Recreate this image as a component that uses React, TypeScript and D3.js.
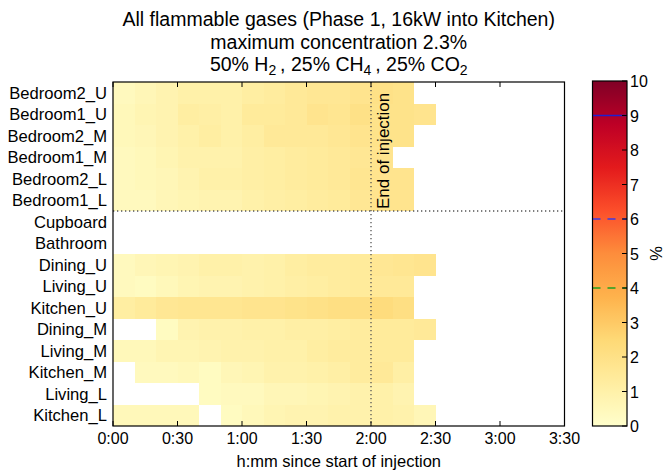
import React from "react";
import * as d3 from "d3";

// Sensor locations, top to bottom
const LOCATIONS = [
  "Bedroom2_U", "Bedroom1_U", "Bedroom2_M", "Bedroom1_M", "Bedroom2_L", "Bedroom1_L",
  "Cupboard", "Bathroom", "Dining_U", "Living_U", "Kitchen_U", "Dining_M",
  "Living_M", "Kitchen_M", "Living_L", "Kitchen_L",
];

// Start of each 10-minute averaging bin (minutes since start of injection)
const BIN_STARTS = [0, 10, 20, 30, 40, 50, 60, 70, 80, 90, 100, 110, 120, 130, 140];
const BIN_WIDTH = 10;

// Flammable gas concentration (%) per bin; null = no reading
const bedroom2U = [0.4, 0.6, 0.8, 1.0, 1.0, 1.0, 1.2, 1.3, 1.5, 1.6, 1.6, 1.8, 2.0, 1.9, null];
const bedroom1U = [0.5, 0.7, 0.8, 1.2, 1.1, 1.0, 1.4, 1.4, 1.5, 1.8, 1.7, 2.0, 1.9, 1.9, 1.8];
const bedroom2M = [0.5, 0.6, 0.8, 1.0, 1.2, 1.0, 1.2, 1.5, 1.5, 1.5, 1.6, 1.8, 1.9, 1.9, null];
const bedroom1M = [0.4, 0.5, 0.7, 0.9, 0.9, 0.9, 1.1, 1.2, 1.3, 1.4, 1.5, 1.6, 1.8, null, null];
const bedroom2L = [0.4, 0.5, 0.6, 0.8, 1.0, 1.0, 1.1, 1.2, 1.3, 1.4, 1.5, 1.7, 1.8, 1.8, null];
const bedroom1L = [0.4, 0.4, 0.6, 0.7, 0.8, 0.8, 1.0, 1.1, 1.2, 1.3, 1.4, 1.6, 1.8, 1.8, null];
const cupboard = [null, null, null, null, null, null, null, null, null, null, null, null, null, null, null];
const bathroom = [null, null, null, null, null, null, null, null, null, null, null, null, null, null, null];
const diningU = [0.4, 0.6, 0.7, 0.8, 1.0, 1.0, 0.9, 1.0, 1.2, 1.3, 1.3, 1.4, 1.6, 1.7, 1.8];
const livingU = [0.4, 0.3, 0.5, 0.7, 0.8, 0.8, 0.9, 1.0, 1.1, 1.2, 1.3, 1.4, 1.5, 1.5, null];
const kitchenU = [1.2, 1.4, 1.6, 1.7, 1.7, 1.7, 1.8, 1.8, 1.9, 2.0, 2.1, 2.1, 2.3, 2.1, null];
const diningM = [null, null, 0.3, 0.8, 0.9, 0.9, 1.0, 1.0, 1.1, 1.1, 1.2, 1.3, 1.4, 1.4, 1.5];
const livingM = [0.5, 0.5, 0.7, 0.7, 0.8, 0.9, 0.9, 1.0, 1.0, 1.2, 1.3, 1.3, 1.4, 1.4, null];
const kitchenM = [null, 0.4, 0.4, 0.5, 0.3, 0.6, 0.7, 0.9, 0.9, 1.0, 1.1, 1.3, 1.5, 1.1, null];
const livingL = [null, null, null, null, 0.3, 0.4, 0.4, 0.6, 0.6, 0.7, 0.8, 0.9, 1.0, 0.8, null];
const kitchenL = [0.5, 0.5, 0.5, 0.5, null, 0.3, 0.5, 0.7, 0.8, 0.8, 0.9, 0.9, 1.0, 0.9, 0.6];

const SERIES = [
  bedroom2U, bedroom1U, bedroom2M, bedroom1M, bedroom2L, bedroom1L,
  cupboard, bathroom, diningU, livingU, kitchenU, diningM,
  livingM, kitchenM, livingL, kitchenL,
];

const X_TICKS = [0, 30, 60, 90, 120, 150, 180, 210];
const X_TICK_LABELS = ["0:00", "0:30", "1:00", "1:30", "2:00", "2:30", "3:00", "3:30"];
const CBAR_TICKS = [0, 1, 2, 3, 4, 5, 6, 7, 8, 9, 10];
const END_OF_INJECTION = 120;
const BEDROOM_ROWS = 6;

// Reference levels on the colour bar
const LEVELS = [
  { value: 9, color: "#1f1fd0", dash: "none" },
  { value: 6, color: "#3a3ae8", dash: "8,7" },
  { value: 4, color: "#22a022", dash: "8,7" },
];

const YLORRD = ["#ffffcc", "#ffeda0", "#fed976", "#feb24c", "#fd8d3c", "#fc4e2a", "#e31a1c", "#bd0026", "#800026"];

const W = 667;
const H = 475;
const M = { left: 113, right: 564.5, top: 82, bottom: 426 };
const CB = { left: 592.5, right: 627, top: 81, bottom: 426 };
const FONT = "'Liberation Sans', Arial, Helvetica, sans-serif";

export default function App() {
  const x = d3.scaleLinear().domain([0, 210]).range([M.left, M.right]);
  const y = d3.scaleBand<string>().domain(LOCATIONS).range([M.top, M.bottom]);
  const color = d3
    .scaleLinear<string>()
    .domain(YLORRD.map((_, i) => (i * 10) / (YLORRD.length - 1)))
    .range(YLORRD)
    .interpolate(d3.interpolateRgb);
  const cb = d3.scaleLinear().domain([0, 10]).range([CB.bottom, CB.top]);

  const cells: { key: string; x0: number; x1: number; y0: number; h: number; fill: string }[] = [];
  SERIES.forEach((row, r) => {
    row.forEach((v, c) => {
      if (v == null) return;
      const t0 = BIN_STARTS[c];
      cells.push({
        key: `${r}-${c}`,
        x0: x(t0),
        x1: x(t0 + BIN_WIDTH),
        y0: y(LOCATIONS[r]) as number,
        h: y.bandwidth(),
        fill: color(v),
      });
    });
  });

  const sepY = y(LOCATIONS[BEDROOM_ROWS]) as number;
  const gradStops = d3.range(0, 10.01, 0.25);

  return (
    <svg
      width={W}
      height={H}
      style={{ position: "absolute", left: 0, top: 0, background: "#fff" }}
      fontFamily={FONT}
    >
      <defs>
        <linearGradient id="cbar" x1="0" y1="1" x2="0" y2="0">
          {gradStops.map((v) => (
            <stop key={v} offset={v / 10} stopColor={color(v)} />
          ))}
        </linearGradient>
      </defs>

      {/* Title */}
      <g textAnchor="middle" fontSize={19.5} fill="#000">
        <text x={(M.left + M.right) / 2} y={26}>All flammable gases (Phase 1, 16kW into Kitchen)</text>
        <text x={(M.left + M.right) / 2} y={48.5}>maximum concentration 2.3%</text>
        <text x={(M.left + M.right) / 2} y={71}>
          50% H<tspan fontSize={14} dy={4}>2</tspan>
          <tspan dy={-4}>{"\u2009, 25% CH"}</tspan>
          <tspan fontSize={14} dy={4}>4</tspan>
          <tspan dy={-4}>{"\u2009, 25% CO"}</tspan>
          <tspan fontSize={14} dy={4}>2</tspan>
        </text>
      </g>

      {/* Heatmap cells */}
      <g shapeRendering="crispEdges">
        {cells.map((d) => (
          <rect key={d.key} x={d.x0} y={d.y0} width={d.x1 - d.x0 + 0.3} height={d.h + 0.3} fill={d.fill} />
        ))}
      </g>

      {/* Separator between bedrooms and ground floor, and end of injection */}
      <line x1={M.left} x2={M.right} y1={sepY} y2={sepY} stroke="#555" strokeWidth={1.3} strokeDasharray="1.3,2.7" />
      <line
        x1={x(END_OF_INJECTION)}
        x2={x(END_OF_INJECTION)}
        y1={M.top}
        y2={M.bottom}
        stroke="#555"
        strokeWidth={1.3}
        strokeDasharray="1.3,2.7"
      />
      <text
        transform={`translate(${x(END_OF_INJECTION) + 17.5},${sepY - 2}) rotate(-90)`}
        fontSize={17}
        fill="#000"
      >
        End of injection
      </text>

      {/* X ticks (inside, top and bottom) */}
      <g stroke="#000" strokeWidth={1}>
        {X_TICKS.map((t) => (
          <g key={t}>
            <line x1={x(t)} x2={x(t)} y1={M.bottom} y2={M.bottom - 5} />
            <line x1={x(t)} x2={x(t)} y1={M.top} y2={M.top + 5} />
          </g>
        ))}
      </g>
      <g textAnchor="middle" fontSize={16} fill="#000">
        {X_TICKS.map((t, i) => (
          <text key={t} x={x(t)} y={444}>
            {X_TICK_LABELS[i]}
          </text>
        ))}
      </g>
      <text x={(M.left + M.right) / 2} y={467} textAnchor="middle" fontSize={16.5} fill="#000">
        h:mm since start of injection
      </text>

      {/* Y labels */}
      <g textAnchor="end" fontSize={16.6} fill="#000">
        {LOCATIONS.map((l) => (
          <text key={l} x={107} y={(y(l) as number) + y.bandwidth() / 2 + 6}>
            {l}
          </text>
        ))}
      </g>

      {/* Plot frame */}
      <rect
        x={M.left}
        y={M.top}
        width={M.right - M.left}
        height={M.bottom - M.top}
        fill="none"
        stroke="#000"
        strokeWidth={1.2}
      />

      {/* Colour bar */}
      <rect x={CB.left} y={CB.top} width={CB.right - CB.left} height={CB.bottom - CB.top} fill="url(#cbar)" />
      {LEVELS.map((lv) => (
        <line
          key={lv.value}
          x1={CB.left}
          x2={CB.right}
          y1={cb(lv.value)}
          y2={cb(lv.value)}
          stroke={lv.color}
          strokeWidth={1.5}
          strokeDasharray={lv.dash}
        />
      ))}
      <g stroke="#000" strokeWidth={1}>
        {CBAR_TICKS.map((t) => (
          <line key={t} x1={CB.right} x2={CB.right - 5} y1={cb(t)} y2={cb(t)} />
        ))}
      </g>
      <rect
        x={CB.left}
        y={CB.top}
        width={CB.right - CB.left}
        height={CB.bottom - CB.top}
        fill="none"
        stroke="#000"
        strokeWidth={1.2}
      />
      <g fontSize={16} fill="#000">
        {CBAR_TICKS.map((t) => (
          <text key={t} x={CB.right + 3} y={cb(t) + 6}>
            {t}
          </text>
        ))}
      </g>
      <text transform={`translate(${662},${(CB.top + CB.bottom) / 2}) rotate(-90)`} textAnchor="middle" fontSize={16.5} fill="#000">
        %
      </text>
    </svg>
  );
}
